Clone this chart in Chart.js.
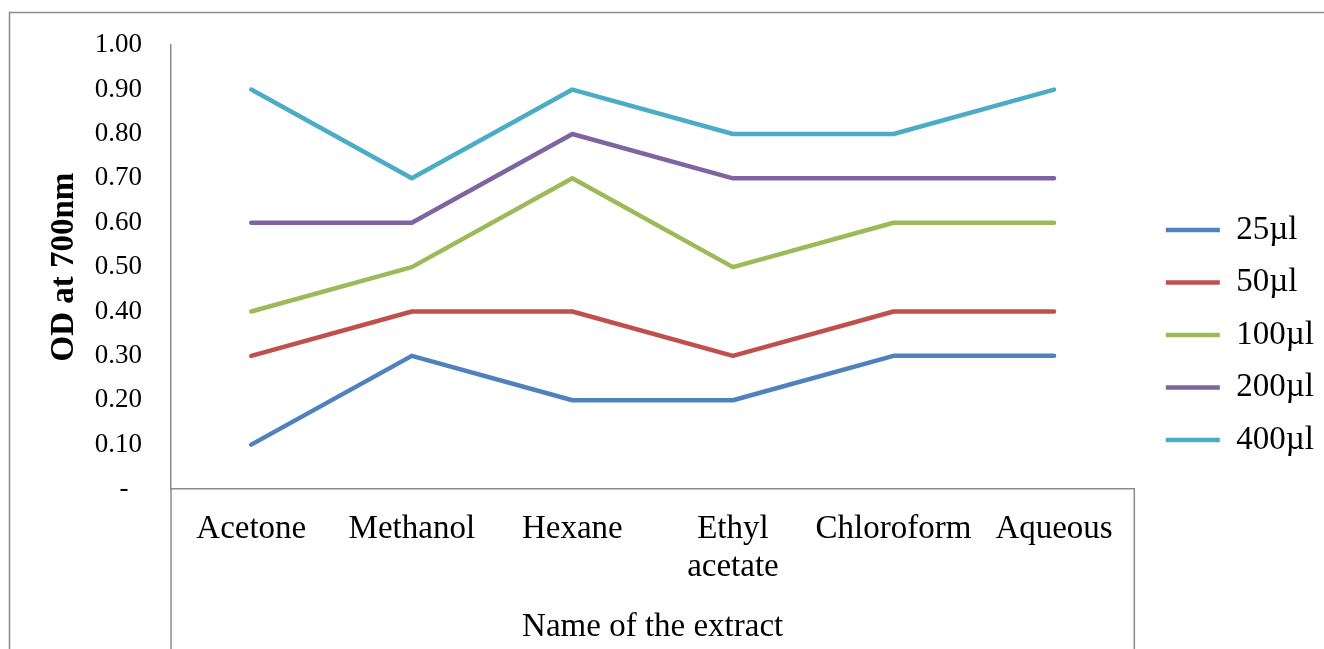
<!DOCTYPE html>
<html>
<head>
<meta charset="utf-8">
<script src="https://cdn.jsdelivr.net/npm/chart.js@4.4.1/dist/chart.umd.min.js"></script>
<style>
  html, body { margin: 0; padding: 0; background: #fff; }
  #wrap { width: 1324px; height: 649px; }
</style>
</head>
<body>
<div id="wrap"><canvas id="miGrafico" width="1324" height="649"></canvas></div>
<script>
// extracts on the x axis
const extracts = ['Acetone', 'Methanol', 'Hexane', ['Ethyl', 'acetate'], 'Chloroform', 'Aqueous'];
// OD at 700nm per volume
const od25 = [0.1, 0.3, 0.2, 0.2, 0.3, 0.3];
const od50 = [0.3, 0.4, 0.4, 0.3, 0.4, 0.4];
const od100 = [0.4, 0.5, 0.7, 0.5, 0.6, 0.6];
const od200 = [0.6, 0.6, 0.8, 0.7, 0.7, 0.7];
const od400 = [0.9, 0.7, 0.9, 0.8, 0.8, 0.9];
const seriesNames = ['25\u00b5l', '50\u00b5l', '100\u00b5l', '200\u00b5l', '400\u00b5l'];
const yTicks = [0, 0.1, 0.2, 0.3, 0.4, 0.5, 0.6, 0.7, 0.8, 0.9, 1.0];

const colores = ['#4F81BD', '#C0504D', '#9BBB59', '#8064A2', '#4BACC6'];
const serif = "'Liberation Serif', 'Times New Roman', serif";

function linea(name, data, color) {
    return {
        label: name,
        data: data,
        borderColor: color,
        backgroundColor: color,
        borderWidth: 4.5,
        borderCapStyle: 'round',
        borderJoinStyle: 'round',
        pointRadius: 0,
        pointHoverRadius: 0,
        tension: 0,
        fill: false
    };
}

// frame + the category box lines under the x axis
const marco = {
    id: 'marco',
    afterDraw(chart) {
        const c = chart.ctx;
        const a = chart.chartArea;
        c.save();
        c.strokeStyle = '#8c8c8c';
        c.lineWidth = 1.5;
        c.beginPath();
        c.moveTo(9.5, chart.height);
        c.lineTo(9.5, 12.5);
        c.lineTo(chart.width, 12.5);
        c.moveTo(a.left, a.bottom);
        c.lineTo(a.left, chart.height);
        c.moveTo(a.right, a.bottom);
        c.lineTo(a.right, chart.height);
        c.stroke();
        c.restore();
    }
};

window.addEventListener("load", () => {
    const ctx = document.querySelector('#miGrafico').getContext('2d');
    new Chart(ctx, {
        type: 'line',
        data: {
            labels: extracts,
            datasets: [
                linea(seriesNames[0], od25, colores[0]),
                linea(seriesNames[1], od50, colores[1]),
                linea(seriesNames[2], od100, colores[2]),
                linea(seriesNames[3], od200, colores[3]),
                linea(seriesNames[4], od400, colores[4])
            ]
        },
        options: {
            responsive: false,
            animation: false,
            layout: { padding: { top: 21, left: 9, right: 0, bottom: 0 } },
            plugins: {
                title: { display: true, text: '', padding: 0, font: { size: 17.5, lineHeight: 1.2 } },
                tooltip: { enabled: false },
                legend: {
                    position: 'right',
                    labels: {
                        usePointStyle: true,
                        pointStyle: 'line',
                        pointStyleWidth: 54,
                        padding: 19.5,
                        color: '#000',
                        font: { family: serif, size: 33 }
                    }
                }
            },
            scales: {
                x: {
                    offset: true,
                    grid: { display: false, drawTicks: false },
                    border: { display: true, color: '#8c8c8c', width: 1.5 },
                    ticks: {
                        autoSkip: false,
                        maxRotation: 0,
                        minRotation: 0,
                        padding: 21,
                        color: '#000',
                        font: { family: serif, size: 33, lineHeight: 1.15 }
                    },
                    title: {
                        display: true,
                        text: 'Name of the extract',
                        color: '#000',
                        padding: { top: 0, bottom: 2 },
                        font: { family: serif, size: 33, lineHeight: 1.2 }
                    },
                    afterFit(s) { s.height = 160; }
                },
                y: {
                    min: 0,
                    max: 1,
                    afterBuildTicks(s) { s.ticks = yTicks.map(v => ({ value: v })); },
                    grid: { display: false, drawTicks: false },
                    border: { display: true, color: '#8c8c8c', width: 1.5 },
                    ticks: {
                        padding: 29,
                        color: '#000',
                        font: { family: serif, size: 27 },
                        callback: v => v === 0 ? '-  ' : v.toFixed(2)
                    },
                    title: {
                        display: true,
                        text: 'OD at 700nm',
                        color: '#000',
                        padding: { top: 36, bottom: 0 },
                        font: { family: serif, size: 33, weight: 'bold', lineHeight: 1.2 }
                    },
                    afterFit(s) { s.width = 162; }
                },
                spacer: {
                    type: 'linear',
                    position: 'right',
                    display: true,
                    grid: { display: false, drawTicks: false },
                    border: { display: false },
                    ticks: { display: false },
                    afterFit(s) { s.width = 12; }
                }
            }
        },
        plugins: [marco]
    });
});
</script>
</body>
</html>
